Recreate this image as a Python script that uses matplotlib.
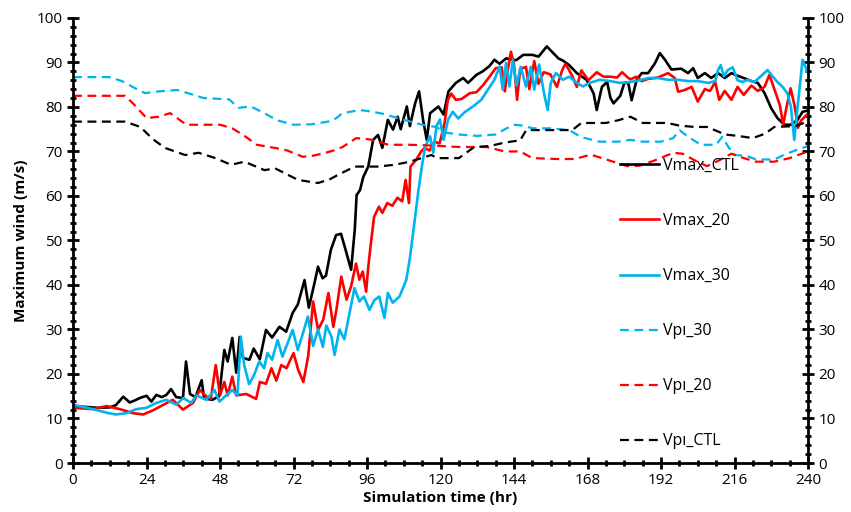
import matplotlib
matplotlib.use("Agg")
import matplotlib.pyplot as plt
from matplotlib.ticker import MultipleLocator

plt.rcParams['font.family'] = ['Open Sans', 'DejaVu Sans']

# Vmax_CTL (black solid)
t_ctl = [0, 4, 8, 12, 14, 16.4, 18.5, 20, 21.8, 24,
         25.6, 27.2, 29, 30.5, 32, 33.7, 35.9, 36.9, 38.2, 40,
         42, 42.8, 45.5, 47.7, 49.4, 50.5, 52, 53.3, 54.4, 55.5,
         57.6, 59, 61, 63, 65, 67.4, 69.6, 71.7, 73.4, 75.6,
         77, 78.8, 80, 81.5, 82.6, 84.2, 85.9, 87.5, 89, 90.8,
         92, 92.6, 93.7, 94.8, 96.4, 98, 99.6, 101, 102.8, 104.5,
         106, 107, 109, 110, 111.7, 113, 114.3, 115.5, 116.6, 119.3,
         121, 122.6, 125, 127.4, 129, 131.7, 133.8, 136, 137.6, 139.3,
         141.4, 144.7, 147, 150, 152, 154.7, 156.8, 158.5, 160, 162,
         164.5, 167.7, 170, 171, 172.7, 174.4, 175.5, 176.5, 178.7, 180,
         181.3, 182.4, 184, 185.7, 187.8, 190, 191.6, 193.3, 195.4, 198.6,
         200.8, 202.5, 204, 206.3, 208.4, 210.6, 212.8, 215, 217, 219,
         221.5, 223.6, 225.8, 228, 230, 232.3, 234.4, 236.6, 238.2, 240]
vmax_ctl = [12.8, 12.6, 12.4, 12.5, 13.0, 14.9, 13.6, 14.0, 14.6, 15.1,
            13.8, 15.3, 14.8, 15.3, 16.6, 14.8, 14.6, 22.8, 15.5, 14.8,
            18.6, 14.5, 14.2, 15.0, 25.4, 22.8, 28.1, 20.3, 28.3, 23.6,
            23.2, 25.7, 23.3, 29.9, 28.2, 30.6, 29.5, 33.7, 35.6, 41.1,
            34.9, 40.3, 44.1, 41.5, 42.1, 47.9, 51.2, 51.5, 47.9, 43.4,
            52.4, 60.2, 61.3, 64.3, 66.6, 72.6, 73.7, 70.8, 77.1, 74.9,
            77.8, 75.0, 80.1, 75.7, 80.8, 83.5, 77.1, 72.6, 78.6, 80.1,
            78.3, 83.5, 85.4, 86.5, 85.4, 87.2, 88.0, 89.2, 90.6, 89.7,
            90.9, 90.5, 91.7, 91.7, 91.3, 93.6, 92.1, 90.9, 90.4, 89.4,
            87.6, 86.1, 83.0, 79.3, 84.5, 85.6, 82.0, 80.8, 82.5, 85.4,
            85.4, 81.5, 86.0, 87.6, 87.6, 89.8, 92.1, 90.6, 88.4, 88.6,
            87.6, 88.7, 86.5, 87.6, 86.5, 87.6, 86.5, 87.6, 87.0, 86.5,
            85.8, 85.4, 83.1, 79.7, 77.5, 76.0, 76.0, 77.1, 78.9, 79.2]

# Vmax_20 (red solid)
t_20 = [0, 6.6, 11, 15.3, 19.6, 22.9, 26, 29.3, 32.6, 35.9,
        39.2, 41.4, 43.5, 45, 46.6, 48, 49.4, 50.5, 52, 53.3,
        56.6, 59.8, 61, 63, 64.8, 66.4, 68, 69.7, 72, 73.5,
        75.2, 76.8, 78.4, 80, 81.7, 83.4, 85, 86, 87.6, 89.3,
        90.8, 92.4, 93.5, 94.6, 95.7, 96.4, 97.2, 98.3, 99.9, 101,
        102.6, 104.3, 105.9, 107.5, 108.6, 109.7, 110.2, 112, 113.7, 114.8,
        116.4, 118, 119.7, 121.3, 122.4, 123.5, 125, 126.9, 129.6, 131.7,
        133.9, 136, 138, 140, 141, 142, 143, 144, 145, 146,
        147.9, 149, 150.6, 152, 153.7, 155.9, 158, 159.7, 160.8, 163,
        164.5, 166, 168.3, 171, 173.2, 175.4, 177.6, 179.3, 181, 182,
        184, 185.7, 187.8, 191, 194.3, 196.5, 197.6, 199.7, 202, 204,
        206.3, 208, 209.7, 211, 212.8, 215, 217, 219, 221.5, 223.6,
        225.8, 227.4, 229, 230.8, 231.9, 233, 234.3, 235.6, 236.7, 237.8,
        240]
vmax_20 = [12.4, 12.1, 12.8, 12.1, 11.2, 10.9, 11.8, 13.0, 14.2, 12.0,
           13.5, 16.4, 15.0, 14.4, 22.0, 15.2, 18.2, 15.2, 19.4, 15.2,
           15.5, 14.4, 18.2, 17.8, 21.3, 18.5, 22.0, 21.3, 24.7, 21.0,
           18.2, 24.0, 36.3, 29.9, 32.2, 38.2, 30.6, 34.4, 41.9, 36.7,
           39.7, 44.8, 41.2, 43.0, 38.5, 44.0, 49.0, 55.3, 57.6, 56.2,
           58.4, 57.8, 59.6, 58.8, 63.6, 58.4, 66.6, 68.1, 70.0, 70.8,
           70.2, 72.2, 71.8, 76.3, 81.6, 83.0, 81.6, 81.8, 83.1, 83.3,
           84.9, 86.8, 88.7, 88.9, 83.5, 88.5, 92.4, 89.5, 81.6, 88.5,
           89.0, 84.0, 90.3, 85.2, 87.8, 87.3, 84.5, 88.2, 89.7, 87.0,
           84.5, 88.2, 86.0, 87.8, 86.8, 86.8, 86.6, 87.8, 86.7, 86.2,
           86.8, 85.8, 86.3, 86.6, 87.6, 86.5, 83.4, 83.8, 84.5, 81.2,
           84.0, 83.6, 85.6, 81.6, 83.6, 81.6, 84.5, 82.7, 84.8, 83.6,
           84.5, 87.2, 84.0, 80.4, 76.0, 80.0, 84.2, 80.3, 75.3, 77.0,
           78.5]

# Vmax_30 (cyan solid)
t_30 = [0, 6.6, 11, 14, 17.4, 20.7, 24, 27.2, 30.5, 33.7,
        36, 38.6, 40.3, 43.5, 46.2, 47.8, 50, 52, 53.7, 54.8,
        55.9, 57.5, 59.2, 60.8, 62.4, 63.5, 65, 66.8, 68.4, 70,
        71.7, 73.4, 75, 76.7, 78.4, 80, 81.6, 82.7, 84.4, 85.4,
        87, 88.6, 90.3, 91.9, 93.5, 95, 96.8, 98.4, 100, 101.7,
        102.8, 104.4, 106.6, 108.8, 110, 111.2, 112.8, 113.9, 115, 116.6,
        117.6, 118.7, 119.8, 121, 122.5, 124, 125.8, 128, 130.6, 133.3,
        135.5, 137.6, 139.3, 140.3, 141.4, 142.5, 143.6, 144.8, 146.2, 147.9,
        149.5, 150.6, 152.2, 153.8, 155, 156, 157.7, 160, 162, 164.5,
        166.5, 168.7, 172, 175.4, 178.7, 182, 185, 188, 191, 194.3,
        197.6, 200.8, 204, 207.4, 209.7, 210.6, 211.5, 212.5, 213.8, 215.4,
        217, 218.6, 220.3, 222.5, 224.6, 226.8, 228.4, 230, 231.7, 233.3,
        234.4, 235.5, 236.6, 237.5, 238.2, 240]
vmax_30 = [13.1, 12.1, 11.3, 10.9, 11.2, 12.1, 12.4, 13.5, 14.2, 13.1,
           14.6, 13.5, 15.2, 14.2, 16.4, 13.8, 15.2, 16.4, 15.2, 28.4,
           22.0, 17.7, 19.9, 22.8, 21.3, 24.7, 23.2, 27.6, 23.9, 26.8,
           29.9, 25.4, 29.0, 32.9, 26.3, 30.0, 26.1, 30.9, 28.4, 24.3,
           30.0, 27.8, 33.7, 39.3, 36.3, 37.4, 34.4, 36.6, 37.4, 32.6,
           38.2, 36.0, 37.4, 41.1, 46.0, 52.5, 61.3, 66.6, 71.1, 73.4,
           69.7, 75.7, 77.2, 72.6, 77.2, 78.9, 77.4, 78.9, 80.1, 81.6,
           83.9, 86.1, 89.1, 83.9, 89.9, 84.6, 90.6, 84.8, 89.0, 84.6,
           89.0, 83.9, 89.5, 83.0, 79.3, 85.4, 87.6, 86.1, 86.8, 85.4,
           84.6, 85.4, 86.1, 85.8, 85.4, 85.6, 86.0, 86.5, 86.5, 86.1,
           86.1, 85.8, 85.8, 85.4, 85.8, 88.3, 89.4, 86.9, 88.3, 88.9,
           86.0, 85.6, 86.1, 85.6, 86.9, 88.3, 86.9, 85.6, 84.5, 83.0,
           80.1, 72.6, 80.1, 85.8, 90.6, 87.6]

# Vpi_30 (cyan dashed)
t_pi30 = [0, 12, 16, 20, 23.5, 28, 34, 38, 42.6, 48, 51, 54, 58, 62, 66.6,
          72, 78, 84, 86, 88, 93.7, 97, 101, 108, 114, 118.5, 122, 126, 132,
          138, 141, 144, 147, 150, 156, 162, 166, 172, 178, 182, 186, 192,
          196, 198, 201, 205, 210, 212, 214, 216, 220, 223, 229, 233, 237, 240]
vpi_30 = [86.7, 86.7, 85.8, 84.3, 83.1, 83.5, 83.8, 83.0, 82.0, 81.8, 81.7,
          79.8, 80.1, 78.8, 77.0, 76.0, 76.1, 76.8, 77.5, 78.6, 79.3, 79.0,
          78.5, 77.1, 76.0, 75.5, 74.2, 73.8, 73.5, 73.8, 75.0, 76.0, 75.8,
          75.2, 75.2, 74.8, 73.2, 72.2, 72.2, 72.6, 72.2, 72.2, 73.0, 74.8,
          73.2, 71.5, 71.5, 73.3, 71.0, 69.2, 69.0, 68.2, 68.2, 69.5, 70.5, 71.2]

# Vpi_20 (red dashed)
t_pi20 = [0, 17, 20, 24, 28, 31.7, 34, 37, 43, 48, 52, 56, 60, 66.6, 70, 75,
          78, 81.5, 85, 88, 92.5, 97, 103, 110, 118, 126, 135, 141, 146, 150,
          158, 164, 169, 175, 181, 185, 190, 196, 199, 203, 207, 211, 215,
          219, 223, 229, 234, 240]
vpi_20 = [82.5, 82.5, 80.5, 77.5, 77.8, 78.6, 77.5, 76.0, 76.0, 76.0, 75.2,
          73.5, 71.5, 70.7, 70.2, 68.8, 69.0, 69.5, 70.2, 71.0, 73.0, 72.7,
          71.5, 71.5, 71.3, 71.0, 71.0, 70.0, 70.0, 68.5, 68.3, 68.3, 69.3,
          68.0, 66.7, 66.8, 68.0, 69.7, 69.5, 68.0, 66.7, 68.0, 69.5, 68.5,
          67.7, 67.7, 68.5, 70.0]

# Vpi_CTL (black dashed)
t_pictl = [0, 17, 22, 26, 30, 36.6, 41, 46.5, 51.6, 56, 62.5, 66, 70, 73.5,
           80, 84, 86.7, 92, 99.5, 105, 110, 117, 119, 126, 131, 136, 141,
           146, 148, 156, 163, 166, 174, 178, 182, 186, 194, 198, 203, 207,
           213, 217, 222, 226, 229, 236, 240]
vpi_ctl = [76.7, 76.7, 75.5, 72.8, 70.8, 69.2, 69.7, 68.5, 67.0, 67.7, 65.8,
           66.2, 64.8, 63.6, 62.9, 63.8, 64.8, 66.6, 66.6, 67.0, 67.7, 69.2,
           68.5, 68.5, 71.0, 71.2, 72.0, 72.5, 74.8, 74.8, 74.8, 76.4, 76.4,
           77.0, 77.8, 76.4, 76.4, 75.8, 75.5, 75.5, 73.8, 73.5, 73.0, 74.0,
           75.5, 75.7, 76.8]

black = '#000000'
red = '#ff0000'
cyan = '#00b4f0'

fig = plt.figure(figsize=(8.51, 5.12), dpi=100)
ax = fig.add_axes([0.0858, 0.0957, 0.8637, 0.8693])

ax.plot(t_ctl, vmax_ctl, color=black, lw=1.9, label='Vmax_CTL')
ax.plot(t_20, vmax_20, color=red, lw=1.9, label='Vmax_20')
ax.plot(t_30, vmax_30, color=cyan, lw=1.9, label='Vmax_30')
ax.plot(t_pi30, vpi_30, color=cyan, lw=1.6, dashes=(4, 2.5), label='Vpı_30')
ax.plot(t_pi20, vpi_20, color=red, lw=1.6, dashes=(4, 2.5), label='Vpı_20')
ax.plot(t_pictl, vpi_ctl, color=black, lw=1.6, dashes=(4, 2.5), label='Vpı_CTL')

ax.set_xlim(0, 240)
ax.set_ylim(0, 100)
ax.xaxis.set_major_locator(MultipleLocator(24))
ax.xaxis.set_minor_locator(MultipleLocator(6))
ax.yaxis.set_major_locator(MultipleLocator(10))
ax.yaxis.set_minor_locator(MultipleLocator(2))

ax.spines['top'].set_visible(False)
for s in ['left', 'right', 'bottom']:
    ax.spines[s].set_linewidth(2)

ax.tick_params(which='both', direction='inout', width=2, right=True, labelright=True,
               labelsize=11)
ax.tick_params(which='major', length=8)
ax.tick_params(which='minor', length=5)

ax.set_xlabel('Simulation time (hr)', fontsize=11, fontweight='bold', labelpad=2)
ax.set_ylabel('Maximum wind (m/s)', fontsize=11, fontweight='bold', labelpad=6)

ax.legend(loc='center left', bbox_to_anchor=(0.725, 0.358), frameon=False,
          fontsize=11.5, handlelength=2.4, handletextpad=0.25, labelspacing=2.45)

fig.savefig('out.png', dpi=100)
